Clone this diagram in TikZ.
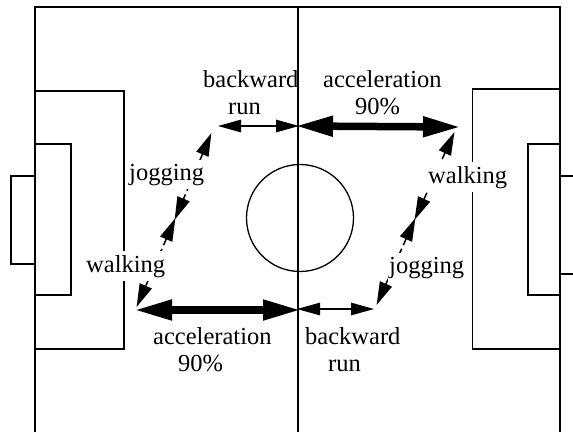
\documentclass[tikz,border=0pt]{standalone}
\usepackage{fontspec}
\setmainfont{Liberation Serif}
\usetikzlibrary{arrows.meta}
\tikzset{
  pitch/.style={line width=1.3pt,black},
  thinrun/.style={line width=1.2pt,shorten <=-1pt,shorten >=-1pt,{Triangle[length=23pt,width=12.5pt]}-{Triangle[length=23pt,width=12.5pt]}},
  sprint/.style={line width=7.5pt,shorten <=-3pt,shorten >=-3pt,{Triangle[length=38pt,width=19pt]}-{Triangle[length=38pt,width=19pt]}},
  diag/.style={line width=1.5pt,dash pattern=on 7pt off 4pt,shorten <=-1pt,shorten >=-1pt,{Triangle[length=23pt,width=13pt]}-{Triangle[length=23pt,width=13pt]}},
  lab/.style={inner sep=0pt,font=\fontsize{24.5}{27}\selectfont,align=left,anchor=north west},
  gaplab/.style={fill=white,inner xsep=1pt,inner ysep=4pt,font=\fontsize{24.5}{27}\selectfont,anchor=base west}
}
\begin{document}
\begin{tikzpicture}[x=1pt,y=-1pt]
\useasboundingbox (0,0) rectangle (573,432);
% pitch
\draw[pitch] (35,432) -- (35,7) -- (560,7) -- (560,432);
\draw[pitch] (298,7) -- (298,432);
\draw[pitch] (300,218) circle[radius=53.5];
\draw[pitch] (35,91) -- (124,91) -- (124,349) -- (35,349);
\draw[pitch] (35,144) -- (71,144) -- (71,295) -- (35,295);
\draw[pitch] (35,176) -- (11,176) -- (11,264) -- (35,264);
\draw[pitch] (560,89) -- (472.5,89) -- (472.5,349) -- (560,349);
\draw[pitch] (560,144) -- (528,144) -- (528,295) -- (560,295);
\draw[pitch] (560,176) -- (573,176);
\draw[pitch] (560,274) -- (573,274);
% route points
\coordinate (tl) at (219,126);
\coordinate (tc) at (298,126);
\coordinate (tr) at (458,127);
\coordinate (trd) at (454,133);
\coordinate (tld) at (211,134);
\coordinate (ml) at (175,219);
\coordinate (mr) at (415,219);
\coordinate (bl) at (137,310);
\coordinate (bld) at (137,306);
\coordinate (bc) at (298,310);
\coordinate (br) at (373,309);
\coordinate (brd) at (377,304);
% arrows
\draw[thinrun] (tl) -- (tc);
\draw[sprint] (tc) -- (tr);
\draw[sprint] (bl) -- (bc);
\draw[thinrun] (bc |- br) -- (br);
\draw[diag] (tld) -- (ml);
\draw[diag] (ml) -- (bld);
\draw[diag] (trd) -- (mr);
\draw[diag] (mr) -- (brd);
% labels on the route
\node[gaplab] (jogL) at (128,180) {jogging};
\node[gaplab] (walkL) at (85,272) {walking};
\node[gaplab] (walkR) at (427,183) {walking};
\node[gaplab] (jogR) at (388,273) {jogging};
% labels beside sprints and backward runs
\node[lab] (backT) at (203,70) {backward\\\hspace*{25pt}run};
\node[lab] (accT) at (323,70) {acceleration\\\hspace*{32pt}90\%};
\node[lab] (accB) at (153,327) {acceleration\\\hspace*{25pt}90\%};
\node[lab] (backB) at (305,327) {backward\\\hspace*{23pt}run};
\end{tikzpicture}
\end{document}
